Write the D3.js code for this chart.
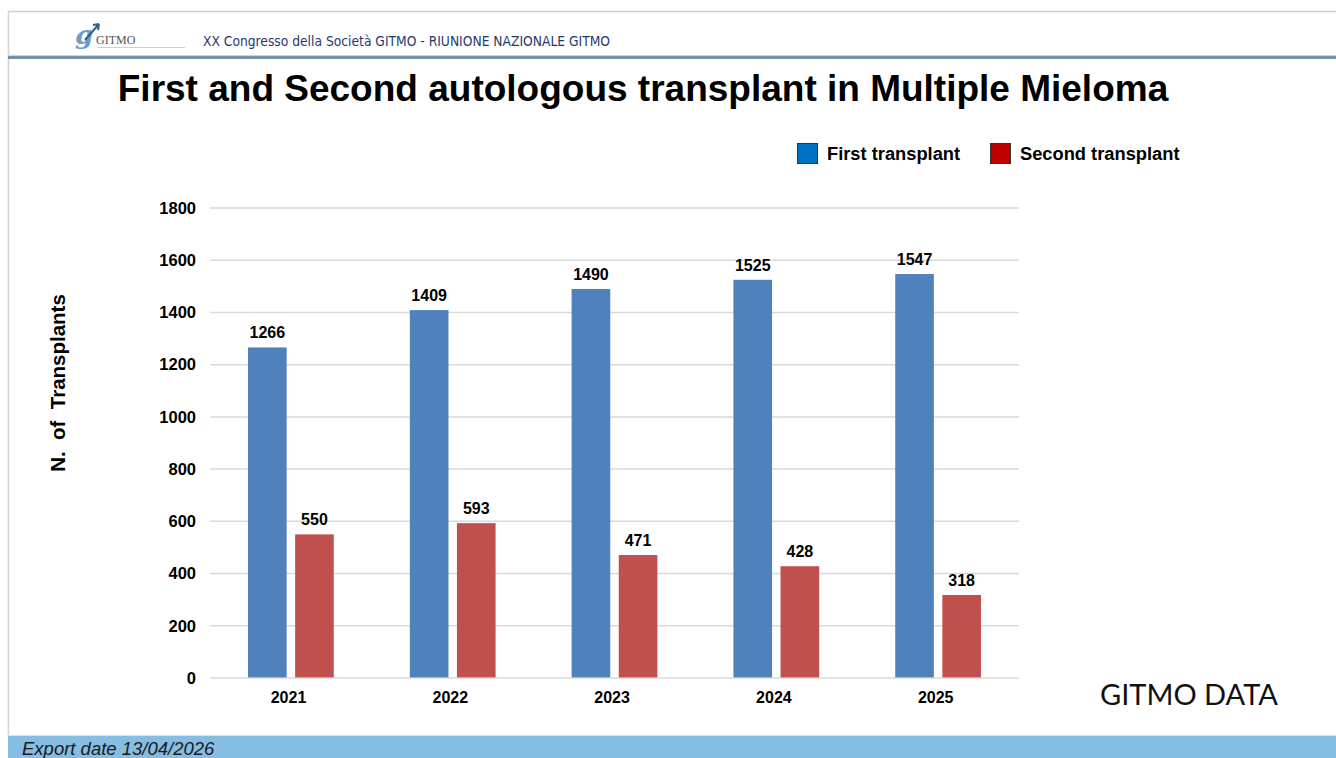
<!DOCTYPE html>
<html>
<head>
<meta charset="utf-8">
<script src="https://cdn.jsdelivr.net/npm/d3@7"></script>
<style>
  html, body { margin: 0; padding: 0; background: #fff; }
  svg { display: block; }
</style>
</head>
<body>
<div id="chart"></div>
<script>
// chart values
const years = ["2021", "2022", "2023", "2024", "2025"];
const firstTransplant = [1266, 1409, 1490, 1525, 1547];
const secondTransplant = [550, 593, 471, 428, 318];
const seriesNames = ["First transplant", "Second transplant"];
const yTicks = [0, 200, 400, 600, 800, 1000, 1200, 1400, 1600, 1800];

const width = 1336, height = 758;
const margin = {top: 208, right: 317, bottom: 80, left: 210};

const svg = d3.select('#chart')
    .append('svg')
    .attr('width', width)
    .attr('height', height);

// page frame
svg.append('line').attr('x1', 8).attr('x2', width).attr('y1', 11.5).attr('y2', 11.5)
    .attr('stroke', '#cfcfcf').attr('stroke-width', 1.5);
svg.append('line').attr('x1', 8.5).attr('x2', 8.5).attr('y1', 11).attr('y2', 736)
    .attr('stroke', '#d4d4d4').attr('stroke-width', 1.5);
svg.append('rect').attr('x', 8).attr('y', 55).attr('width', width - 8).attr('height', 1)
    .attr('fill', '#c9d6e2');
svg.append('rect').attr('x', 8).attr('y', 56).attr('width', width - 8).attr('height', 3)
    .attr('fill', '#7391ad');

// logo (rough)
const logo = svg.append('g').attr('transform', 'translate(75,20)');
logo.append('text').attr('x', 0).attr('y', 24)
    .attr('font-family', 'DejaVu Serif').attr('font-style', 'italic').attr('font-weight', 'bold')
    .attr('font-size', 26).attr('fill', '#6f9cc6').text('g');
logo.append('path').attr('d', 'M10,20 L24,4 M24,4 l-6,1 M24,4 l-1,6')
    .attr('stroke', '#2d5f8f').attr('stroke-width', 2).attr('fill', 'none');
logo.append('text').attr('x', 21).attr('y', 24)
    .attr('font-family', 'Liberation Serif').attr('font-size', 12).attr('fill', '#555')
    .text('GITMO');
logo.append('line').attr('x1', 22).attr('x2', 110).attr('y1', 27.5).attr('y2', 27.5)
    .attr('stroke', '#cfcfcf').attr('stroke-width', 1);

svg.append('text').attr('x', 203).attr('y', 46)
    .attr('font-family', "'Liberation Sans Narrow', 'DejaVu Sans Condensed', sans-serif")
    .attr('font-size', 14.5).attr('fill', '#1f3a6e')
    .attr('textLength', 407).attr('lengthAdjust', 'spacingAndGlyphs')
    .text('XX Congresso della Società GITMO - RIUNIONE NAZIONALE GITMO');

// title
svg.append('text').attr('x', 643).attr('y', 101)
    .attr('text-anchor', 'middle')
    .attr('font-family', "'Liberation Sans', Arial, sans-serif")
    .attr('font-weight', 'bold').attr('font-size', 37).attr('fill', '#000')
    .text('First and Second autologous transplant in Multiple Mieloma');

// scales
const x0 = d3.scaleBand()
    .domain(years)
    .range([margin.left, width - margin.right]);

const x1 = d3.scaleBand()
    .domain(seriesNames)
    .range([x0.bandwidth() * 0.235, x0.bandwidth() * 0.765])
    .paddingInner(0.18);

const y = d3.scaleLinear()
    .domain([0, 1800])
    .range([height - margin.bottom, margin.top]);

const colors = d3.scaleOrdinal().domain(seriesNames).range(['#4f81bd', '#c0504d']);
const legendColors = d3.scaleOrdinal().domain(seriesNames).range(['#0070c0', '#c00000']);

// gridlines
svg.append('g')
    .selectAll('line')
    .data(yTicks)
    .join('line')
    .attr('x1', margin.left).attr('x2', width - margin.right)
    .attr('y1', d => y(d)).attr('y2', d => y(d))
    .attr('stroke', '#d9d9d9').attr('stroke-width', 1.5);

// y axis labels
const yAxis = svg.append('g')
    .attr('transform', 'translate(' + (margin.left - 14) + ',0)')
    .call(d3.axisLeft(y).tickValues(yTicks).tickFormat(d3.format('d')).tickSize(0).tickPadding(0));
yAxis.select('.domain').remove();
yAxis.selectAll('text')
    .attr('font-family', "'Liberation Sans', Arial, sans-serif")
    .attr('font-weight', 'bold').attr('font-size', 16.5).attr('fill', '#000');

// bars
const rows = years.map((yr, i) => ({
    year: yr,
    values: [
        {name: seriesNames[0], value: firstTransplant[i]},
        {name: seriesNames[1], value: secondTransplant[i]}
    ]
}));

const groups = svg.append('g')
    .selectAll('g')
    .data(rows)
    .join('g')
    .attr('transform', d => 'translate(' + x0(d.year) + ',0)');

groups.selectAll('rect')
    .data(d => d.values)
    .join('rect')
    .attr('x', d => x1(d.name))
    .attr('y', d => y(d.value))
    .attr('width', x1.bandwidth())
    .attr('height', d => y(0) - y(d.value))
    .attr('fill', d => colors(d.name));

groups.selectAll('text')
    .data(d => d.values)
    .join('text')
    .attr('x', d => x1(d.name) + x1.bandwidth() / 2)
    .attr('y', d => y(d.value) - 9)
    .attr('text-anchor', 'middle')
    .attr('font-family', "'Liberation Sans', Arial, sans-serif")
    .attr('font-weight', 'bold').attr('font-size', 16).attr('fill', '#000')
    .text(d => d.value);

// zero line drawn over the bars (light)
svg.append('line')
    .attr('x1', margin.left).attr('x2', width - margin.right)
    .attr('y1', y(0)).attr('y2', y(0))
    .attr('stroke', '#e4e4e4').attr('stroke-opacity', 0.6).attr('stroke-width', 2);

// x axis labels
const xAxis = svg.append('g')
    .attr('transform', 'translate(0,' + (y(0) + 14) + ')')
    .call(d3.axisBottom(x0).tickSize(0).tickPadding(0));
xAxis.select('.domain').remove();
xAxis.selectAll('text')
    .attr('dy', '0.71em')
    .attr('dx', '-0.15em')
    .attr('font-family', "'Liberation Sans', Arial, sans-serif")
    .attr('font-weight', 'bold').attr('font-size', 16).attr('fill', '#000');

// y axis title
svg.append('text')
    .attr('transform', 'translate(65,383) rotate(-90)')
    .attr('text-anchor', 'middle')
    .attr('xml:space', 'preserve')
    .attr('font-family', "'Liberation Sans', Arial, sans-serif")
    .attr('font-weight', 'bold').attr('font-size', 20.5).attr('fill', '#000')
    .text('N.  of  Transplants');

// legend
const legend = svg.append('g')
    .selectAll('g')
    .data(seriesNames)
    .join('g')
    .attr('transform', (d, i) => 'translate(' + [797, 990][i] + ',143)');
legend.append('rect')
    .attr('x', 0.5).attr('y', 0.5).attr('width', 20).attr('height', 20)
    .attr('fill', d => legendColors(d)).attr('stroke', '#333').attr('stroke-width', 1);
legend.append('text')
    .attr('x', 30).attr('y', 17)
    .attr('font-family', "'Liberation Sans', Arial, sans-serif")
    .attr('font-weight', 'bold').attr('font-size', 18.3).attr('fill', '#000')
    .text(d => d);

// source note
svg.append('text').attr('x', 1100).attr('y', 705)
    .attr('font-family', "Lato, 'Open Sans', sans-serif")
    .attr('font-size', 28).attr('fill', '#111')
    .attr('textLength', 178).attr('lengthAdjust', 'spacingAndGlyphs')
    .text('GITMO DATA');

// footer band
svg.append('rect').attr('x', 8).attr('y', 736).attr('width', width - 8).attr('height', height - 736)
    .attr('fill', '#86bde3');
svg.append('line').attr('x1', 8).attr('x2', width).attr('y1', 735.5).attr('y2', 735.5)
    .attr('stroke', '#d6e6f2').attr('stroke-width', 1);
svg.append('text').attr('x', 22).attr('y', 755)
    .attr('font-family', "'Liberation Sans', Arial, sans-serif")
    .attr('font-style', 'italic').attr('font-size', 18.5).attr('fill', '#1a1a1a')
    .text('Export date 13/04/2026');
</script>
</body>
</html>
